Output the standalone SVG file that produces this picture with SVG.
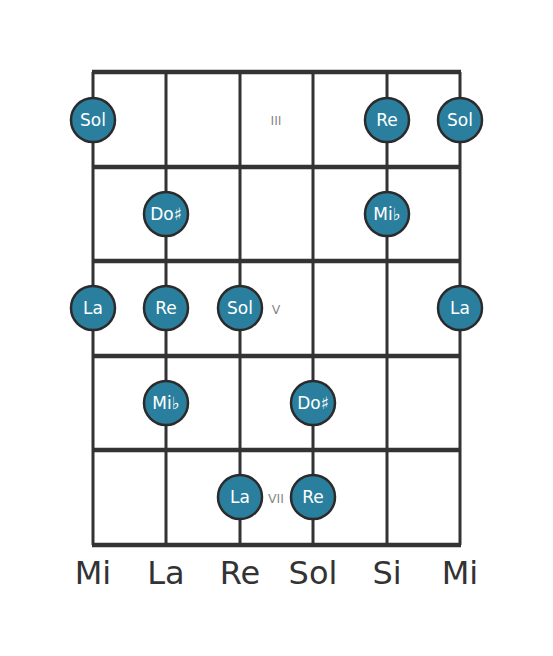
<svg xmlns="http://www.w3.org/2000/svg" width="553" height="656" viewBox="0 0 553 656">
<style>
.str{stroke:#333;stroke-width:3;fill:none}
.fret{stroke:#333;stroke-width:4.5;fill:none}
.note circle{fill:#2a7f9e;stroke:#2b2b2b;stroke-width:2.5}
.note text{fill:#fff;font-family:"DejaVu Sans",sans-serif;font-size:17px;text-anchor:middle;dominant-baseline:central}
.mark{fill:#888;font-family:"DejaVu Sans",sans-serif;font-size:12.5px;text-anchor:middle;dominant-baseline:central}
.sname{fill:#333;font-family:"DejaVu Sans",sans-serif;font-size:32px;text-anchor:middle}
</style>
<rect width="553" height="656" fill="#fff"/>
<g id="fretboard">
<line class="str" x1="93" y1="72" x2="93" y2="545"/>
<line class="str" x1="166" y1="72" x2="166" y2="545"/>
<line class="str" x1="240" y1="72" x2="240" y2="545"/>
<line class="str" x1="313" y1="72" x2="313" y2="545"/>
<line class="str" x1="387" y1="72" x2="387" y2="545"/>
<line class="str" x1="460" y1="72" x2="460" y2="545"/>
<line class="fret" x1="92" y1="72" x2="461" y2="72"/>
<line class="fret" x1="92" y1="167" x2="461" y2="167"/>
<line class="fret" x1="92" y1="261" x2="461" y2="261"/>
<line class="fret" x1="92" y1="356" x2="461" y2="356"/>
<line class="fret" x1="92" y1="450" x2="461" y2="450"/>
<line class="fret" x1="92" y1="545" x2="461" y2="545"/>
</g>
<g id="markers">
<text class="mark" x="276" y="120">III</text>
<text class="mark" x="276" y="309">V</text>
<text class="mark" x="276" y="498">VII</text>
</g>
<g id="n1" class="note"><circle cx="93" cy="120" r="22"/><text x="93" y="120">Sol</text></g>
<g id="n2" class="note"><circle cx="387" cy="120" r="22"/><text x="387" y="120">Re</text></g>
<g id="n3" class="note"><circle cx="460" cy="120" r="22"/><text x="460" y="120">Sol</text></g>
<g id="n4" class="note"><circle cx="166" cy="214" r="22"/><text x="166" y="214">Do♯</text></g>
<g id="n5" class="note"><circle cx="387" cy="214" r="22"/><text x="387" y="214">Mi♭</text></g>
<g id="n6" class="note"><circle cx="93" cy="308" r="22"/><text x="93" y="308">La</text></g>
<g id="n7" class="note"><circle cx="166" cy="308" r="22"/><text x="166" y="308">Re</text></g>
<g id="n8" class="note"><circle cx="240" cy="308" r="22"/><text x="240" y="308">Sol</text></g>
<g id="n9" class="note"><circle cx="460" cy="308" r="22"/><text x="460" y="308">La</text></g>
<g id="n10" class="note"><circle cx="166" cy="403" r="22"/><text x="166" y="403">Mi♭</text></g>
<g id="n11" class="note"><circle cx="313" cy="403" r="22"/><text x="313" y="403">Do♯</text></g>
<g id="n12" class="note"><circle cx="240" cy="497" r="22"/><text x="240" y="497">La</text></g>
<g id="n13" class="note"><circle cx="313" cy="497" r="22"/><text x="313" y="497">Re</text></g>
<g id="strings">
<text class="sname" x="93" y="584">Mi</text>
<text class="sname" x="166" y="584">La</text>
<text class="sname" x="240" y="584">Re</text>
<text class="sname" x="313" y="584">Sol</text>
<text class="sname" x="387" y="584">Si</text>
<text class="sname" x="460" y="584">Mi</text>
</g>
</svg>
